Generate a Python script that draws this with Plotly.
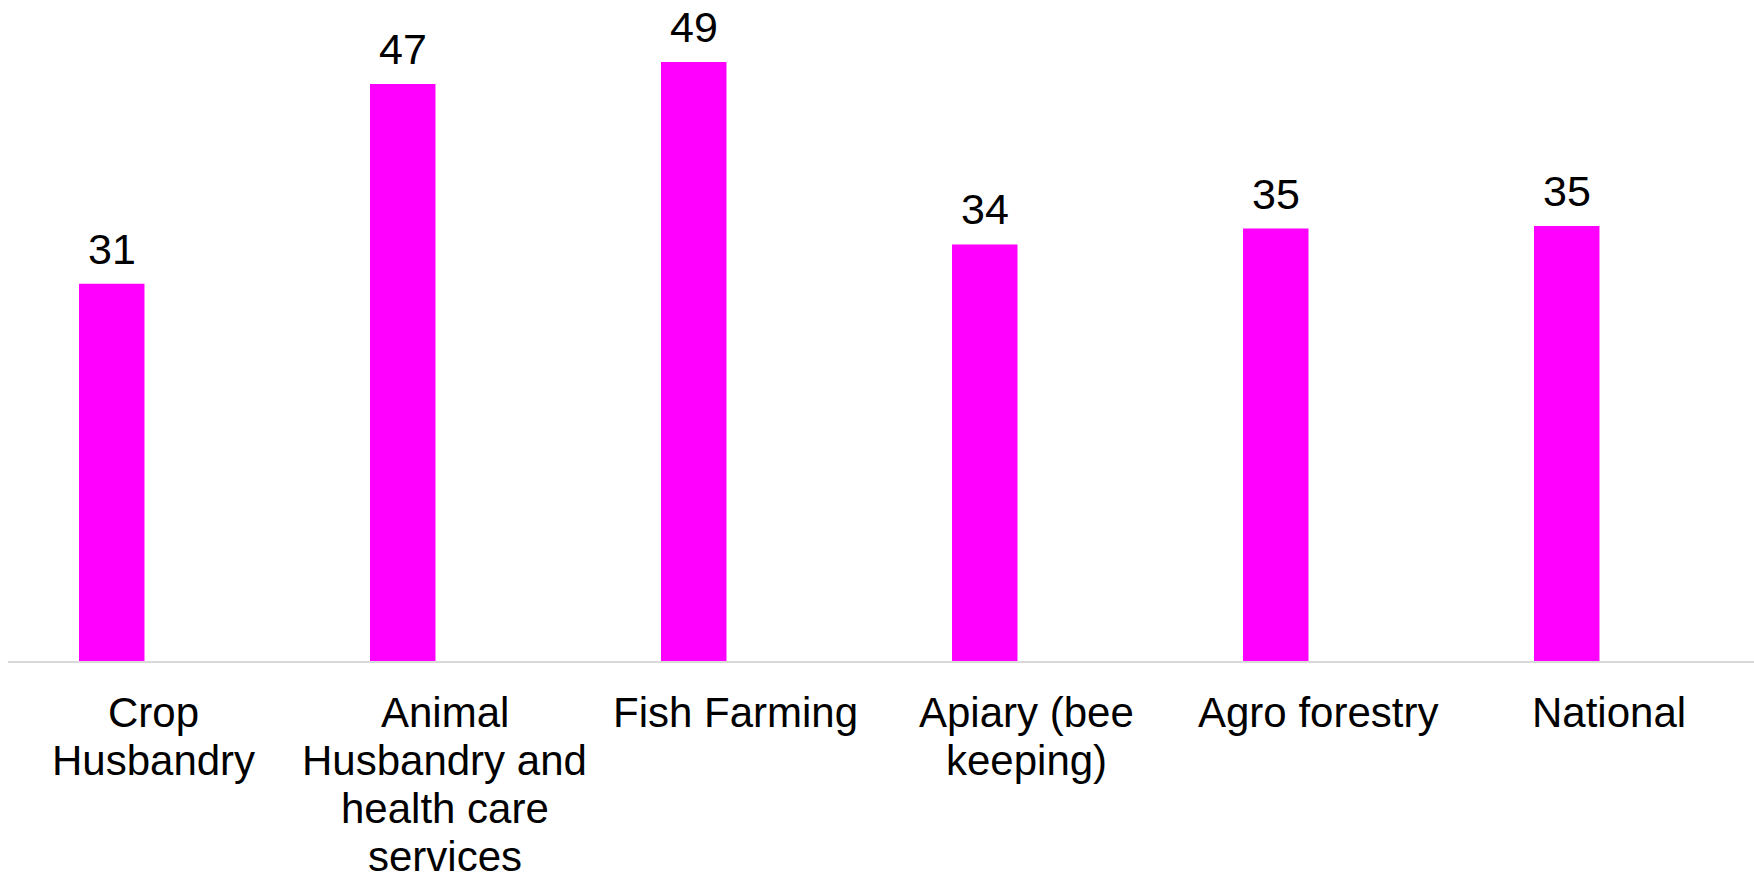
import plotly.graph_objects as go

categories = [
    "Crop<br>Husbandry",
    "Animal<br>Husbandry and<br>health care<br>services",
    "Fish Farming",
    "Apiary (bee<br>keeping)",
    "Agro forestry",
    "National",
]
values = [30.8, 47.1, 48.9, 34.0, 35.3, 35.5]
labels = ["31", "47", "49", "34", "35", "35"]

FONT = "Liberation Sans, Arial, sans-serif"
TICK_SIZE = 42
LABEL_SIZE = 43
LINE_STEP = 48
BAR_WIDTH = 0.225
BAR_OFFSET = -0.256

fig = go.Figure()
fig.add_trace(go.Bar(
    x=categories,
    y=values,
    marker=dict(color="#FF00FF", line=dict(width=0)),
    width=BAR_WIDTH,
    offset=BAR_OFFSET,
    cliponaxis=False,
    hoverinfo="skip",
))

annotations = []
# data labels above bars (shifted to the bar centre)
for cat, val, lab in zip(categories, values, labels):
    annotations.append(dict(
        x=cat, y=val, xref="x", yref="y",
        text=lab, showarrow=False,
        xanchor="center", yanchor="bottom",
        xshift=-42, yshift=10, borderpad=0,
        font=dict(family=FONT, size=LABEL_SIZE, color="#000000"),
    ))

# category labels, one annotation per line for Excel-like line spacing
for cat in categories:
    for i, line in enumerate(cat.split("<br>")):
        annotations.append(dict(
            x=cat, y=0, xref="x", yref="y",
            text=line, showarrow=False,
            xanchor="center", yanchor="top",
            yshift=-26 - i * LINE_STEP,
            font=dict(family=FONT, size=TICK_SIZE, color="#000000"),
        ))

fig.update_layout(
    width=1754,
    height=879,
    margin=dict(l=8, r=0, t=8, b=218, autoexpand=False),
    paper_bgcolor="white",
    plot_bgcolor="white",
    showlegend=False,
    font=dict(family=FONT, size=TICK_SIZE, color="#000000"),
    annotations=annotations,
    xaxis=dict(
        showline=True,
        linecolor="#D9D9D9",
        linewidth=1.5,
        ticks="",
        showgrid=False,
        showticklabels=False,
        fixedrange=True,
    ),
    yaxis=dict(
        range=[0, 53.3],
        visible=False,
        showgrid=False,
        zeroline=False,
        fixedrange=True,
    ),
)

fig.write_html(
    "out.html",
    config={"displayModeBar": False},
    post_script="document.body.style.margin='0';document.body.style.padding='0';",
)
